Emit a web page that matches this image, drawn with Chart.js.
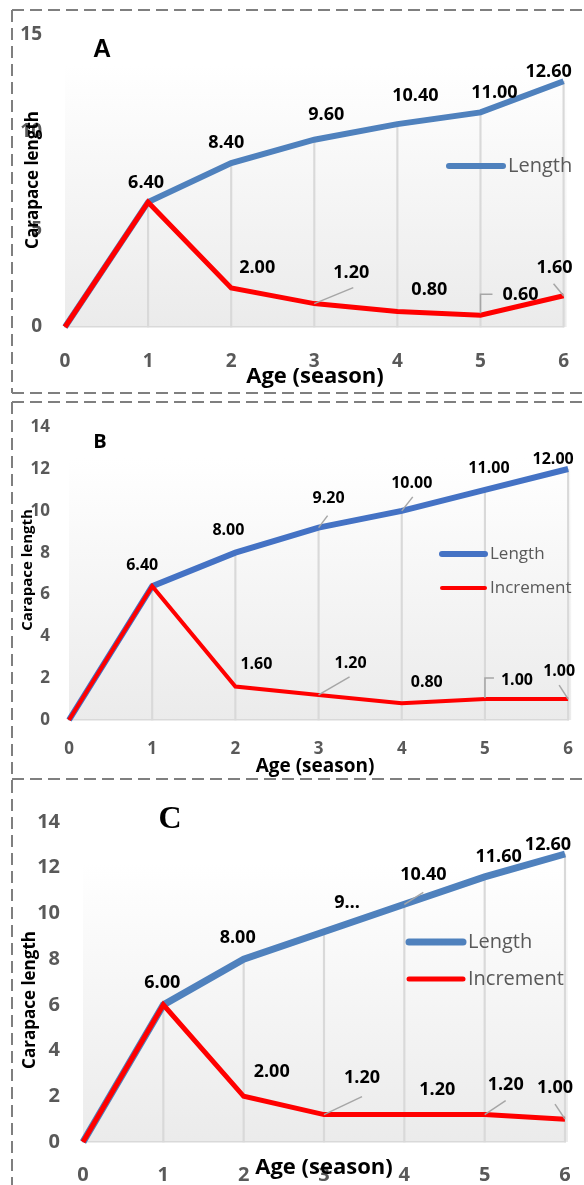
<!DOCTYPE html>
<html>
<head>
    <title>Carapace length by age</title>
    <script src="https://cdn.jsdelivr.net/npm/chart.js"></script>
    <style>
        body { margin: 0; background: #fff; }
        canvas { position: absolute; left: 0; }
    </style>
</head>
<body>
    <canvas id="chartA" width="584" height="398" style="top:0px"></canvas>
    <canvas id="chartB" width="584" height="383" style="top:398px"></canvas>
    <canvas id="chartC" width="584" height="404" style="top:781px"></canvas>
    <script>
        // data
        const ages = ['0', '1', '2', '3', '4', '5', '6'];
        const lengthA = [0, 6.4, 8.4, 9.6, 10.4, 11.0, 12.6];
        const incrementA = [0, 6.4, 2.0, 1.2, 0.8, 0.6, 1.6];
        const lengthB = [0, 6.4, 8.0, 9.2, 10.0, 11.0, 12.0];
        const incrementB = [0, 6.4, 1.6, 1.2, 0.8, 1.0, 1.0];
        const lengthC = [0, 6.0, 8.0, 9.2, 10.4, 11.6, 12.6];
        const incrementC = [0, 6.0, 2.0, 1.2, 1.2, 1.2, 1.0];
        const yTicksA = [0, 5, 10, 15];
        const yTicksB = [0, 2, 4, 6, 8, 10, 12, 14];
        const yTicksC = [0, 2, 4, 6, 8, 10, 12, 14];

        const W = 584;
        const tickGray = '#595959';
        const FONT = '"Open Sans"';

        // background, border, titles, legend and value labels
        const decor = {
            id: 'decor',
            beforeDraw(chart, args, o) {
                const ctx = chart.ctx;
                const a = chart.chartArea;
                ctx.save();
                ctx.strokeStyle = '#7f7f7f';
                ctx.lineWidth = 2;
                ctx.setLineDash([12, 6]);
                ctx.beginPath();
                o.border.forEach(s => { ctx.moveTo(s[0], s[1]); ctx.lineTo(s[2], s[3]); });
                ctx.stroke();
                ctx.setLineDash([]);
                const g = ctx.createLinearGradient(0, o.gradTop, 0, a.bottom);
                g.addColorStop(0, '#ffffff');
                g.addColorStop(1, '#ebebeb');
                ctx.fillStyle = g;
                ctx.fillRect(a.left, o.gradTop, a.right - a.left + 3, a.bottom - o.gradTop);
                ctx.restore();
            },
            afterDatasetsDraw(chart, args, o) {
                const ctx = chart.ctx;
                ctx.save();
                ctx.textAlign = 'center';
                ctx.textBaseline = 'middle';
                o.labels.forEach(l => {
                    const meta = chart.getDatasetMeta(l.ds);
                    const values = chart.data.datasets[l.ds].data;
                    ctx.font = o.labelFont;
                    ctx.fillStyle = '#000';
                    l.offsets.forEach((off, i) => {
                        if (!off) return;
                        const pt = meta.data[i];
                        const txt = (l.text && l.text[i]) || values[i].toFixed(2);
                        ctx.fillText(txt, pt.x + off[0], pt.y + off[1]);
                    });
                    ctx.strokeStyle = '#a6a6a6';
                    ctx.lineWidth = 1.5;
                    Object.keys(l.leaders || {}).forEach(i => {
                        const pt = meta.data[i];
                        ctx.beginPath();
                        l.leaders[i].forEach((p, k) => {
                            if (k === 0) ctx.moveTo(pt.x + p[0], pt.y + p[1]);
                            else ctx.lineTo(pt.x + p[0], pt.y + p[1]);
                        });
                        ctx.stroke();
                    });
                });
                ctx.restore();
            },
            afterDraw(chart, args, o) {
                const ctx = chart.ctx;
                ctx.save();
                ctx.textBaseline = 'middle';
                ctx.textAlign = 'center';
                ctx.fillStyle = '#000';
                ctx.font = o.letter.font;
                ctx.fillText(o.letter.text, o.letter.x, o.letter.y);
                ctx.font = o.xTitle.font;
                ctx.fillText('Age (season)', o.xTitle.x, o.xTitle.y);
                ctx.save();
                ctx.translate(o.yTitle.x, o.yTitle.y);
                ctx.rotate(-Math.PI / 2);
                ctx.font = o.yTitle.font;
                ctx.fillText('Carapace length', 0, 0);
                ctx.restore();
                // legend
                ctx.textAlign = 'left';
                ctx.font = o.legend.font;
                o.legend.items.forEach(it => {
                    ctx.strokeStyle = it.color;
                    ctx.lineWidth = it.width;
                    ctx.lineCap = 'round';
                    ctx.beginPath();
                    ctx.moveTo(o.legend.x1, it.y);
                    ctx.lineTo(o.legend.x2, it.y);
                    ctx.stroke();
                    ctx.fillStyle = tickGray;
                    ctx.fillText(it.text, o.legend.tx, it.y);
                });
                ctx.restore();
            }
        };

        function makePanel(id, p) {
            const canvas = document.getElementById(id);
            const H = canvas.height;
            const yTicks = p.yTicks;
            return new Chart(canvas, {
                type: 'line',
                data: {
                    labels: ages,
                    datasets: [
                        { label: 'Increment', data: p.increment, borderColor: '#ff0000', borderWidth: p.incWidth, order: 1, clip: false },
                        { label: 'Length', data: p.length, borderColor: p.blue, borderWidth: p.lenWidth, order: 2, clip: false },
                        { type: 'bar', label: 'drop', data: p.length, backgroundColor: '#d9d9d9', barThickness: 1.5, order: 3, clip: false }
                    ]
                },
                options: {
                    responsive: false,
                    animation: false,
                    layout: { padding: { left: 0, top: p.area.top, right: W - p.area.right, bottom: 0 } },
                    elements: {
                        point: { radius: 0 },
                        line: { tension: 0, borderJoinStyle: 'miter' }
                    },
                    scales: {
                        x: {
                            offset: false,
                            grid: { display: false },
                            border: { color: '#d9d9d9', width: 1.5 },
                            ticks: { color: tickGray, font: { family: FONT, weight: 'bold', size: p.tickSize }, padding: p.xPad, maxRotation: 0, autoSkip: false },
                            afterFit(s) { s.height = H - p.area.bottom; }
                        },
                        y: {
                            min: yTicks[0],
                            max: yTicks[yTicks.length - 1],
                            grid: { display: false, drawTicks: false },
                            border: { display: false },
                            ticks: { stepSize: yTicks[1] - yTicks[0], color: tickGray, font: { family: FONT, weight: 'bold', size: p.tickSize }, padding: p.yPad },
                            afterFit(s) { s.width = p.area.left; }
                        }
                    },
                    plugins: {
                        legend: { display: false },
                        tooltip: { enabled: false },
                        decor: p.decor
                    }
                },
                plugins: [decor]
            });
        }

        makePanel('chartA', {
            length: lengthA, increment: incrementA, yTicks: yTicksA,
            blue: '#4f81bd', lenWidth: 6, incWidth: 5,
            area: { left: 65, right: 567, top: 30, bottom: 327 },
            tickSize: 19, xPad: 15, yPad: 23,
            decor: {
                border: [[12, 10, 584, 10], [12, 10, 12, 393], [12, 393, 584, 393]],
                gradTop: 65,
                letter: { text: 'A', font: 'bold 25px "Liberation Sans"', x: 102, y: 50 },
                xTitle: { font: 'bold 22px ' + FONT, x: 315, y: 377 },
                yTitle: { font: 'bold 17px ' + FONT, x: 33, y: 180 },
                legend: { font: '20px ' + FONT, x1: 449, x2: 503, tx: 508, items: [
                    { text: 'Length', color: '#4f81bd', width: 6, y: 166 }
                ] },
                labelFont: 'bold 18px ' + FONT,
                labels: [
                    { ds: 1, offsets: [null, [-2, -19], [-5, -20], [12, -25], [18, -28], [14, -20], [-15, -9]] },
                    { ds: 0, offsets: [null, null, [26, -20], [37, -31], [32, -22], [40, -20], [-9, -28]],
                      leaders: { 3: [[0, 0], [39, -16]], 5: [[0, -2], [0, -21], [12, -21]], 6: [[-10, -12], [0, 0]] } }
                ]
            }
        });

        makePanel('chartB', {
            length: lengthB, increment: incrementB, yTicks: yTicksB,
            blue: '#4472c4', lenWidth: 6, incWidth: 4,
            area: { left: 69, right: 571, top: 24, bottom: 322 },
            tickSize: 17, xPad: 11, yPad: 19,
            decor: {
                border: [[12, 4, 584, 4], [12, 4, 12, 383], [12, 381, 584, 381]],
                gradTop: 60,
                letter: { text: 'B', font: 'bold 20px ' + FONT, x: 100, y: 44 },
                xTitle: { font: 'bold 19px ' + FONT, x: 315, y: 369 },
                yTitle: { font: 'bold 15px ' + FONT, x: 28, y: 172 },
                legend: { font: '17px ' + FONT, x1: 442, x2: 485, tx: 490, items: [
                    { text: 'Length', color: '#4472c4', width: 6, y: 156 },
                    { text: 'Increment', color: '#ff0000', width: 4, y: 190 }
                ] },
                labelFont: 'bold 16px ' + FONT,
                labels: [
                    { ds: 1, offsets: [null, [-10, -21], [-7, -22], [10, -29], [10, -27], [4, -22], [-15, -10]],
                      leaders: { 3: [[0, 0], [9, -12]], 4: [[0, 0], [11, -14]] } },
                    { ds: 0, offsets: [null, null, [21, -22], [32, -31], [25, -21], [32, -19], [-9, -28]],
                      leaders: { 3: [[0, 0], [31, -18]], 5: [[0, -1], [0, -21], [9, -21]], 6: [[-9, -14], [0, 0]] } }
                ]
            }
        });

        makePanel('chartC', {
            length: lengthC, increment: incrementC, yTicks: yTicksC,
            blue: '#4f81bd', lenWidth: 7, incWidth: 5,
            area: { left: 83, right: 565, top: 41, bottom: 361 },
            tickSize: 20, xPad: 13, yPad: 23,
            decor: {
                border: [[12, 0, 12, 404]],
                gradTop: 82,
                letter: { text: 'C', font: 'bold 32px "Liberation Serif"', x: 170, y: 39 },
                xTitle: { font: 'bold 22px ' + FONT, x: 324, y: 387 },
                yTitle: { font: 'bold 17px ' + FONT, x: 30, y: 219 },
                legend: { font: '20px ' + FONT, x1: 409, x2: 463, tx: 468, items: [
                    { text: 'Length', color: '#4f81bd', width: 7, y: 161 },
                    { text: 'Increment', color: '#ff0000', width: 5, y: 198 }
                ] },
                labelFont: 'bold 18px ' + FONT,
                labels: [
                    { ds: 1, offsets: [null, [-1, -22], [-6, -21], [23, -29], [19, -29], [14, -20], [-17, -9]],
                      text: { 3: '9\u2026' },
                      leaders: { 4: [[0, 0], [19, -12]] } },
                    { ds: 0, offsets: [null, null, [28, -24], [38, -37], [33, -25], [21, -30], [-10, -31]],
                      leaders: { 3: [[0, 0], [38, -18]], 5: [[0, 0], [21, -14]], 6: [[-10, -15], [0, 0]] } }
                ]
            }
        });
    </script>
</body>
</html>
